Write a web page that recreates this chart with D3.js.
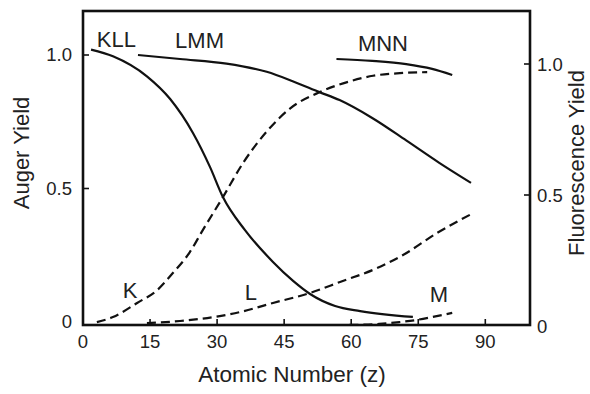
<!DOCTYPE html>
<html><head><meta charset="utf-8">
<script src="https://cdn.jsdelivr.net/npm/d3@7"></script>
<style>html,body{margin:0;padding:0;background:#fff;}svg{display:block;}</style>
</head><body>
<svg id="c" width="590" height="394"></svg>
<script>
// Auger yields (left axis)
const zKLL = [1.8, 6.7, 14.3, 19.5, 24.6, 28.4, 31.3, 36.2, 42.5, 47.0, 50.8, 56.4, 62.0, 73.8];
const aKLL = [1.02, 0.995, 0.92, 0.835, 0.708, 0.581, 0.468, 0.345, 0.225, 0.154, 0.105, 0.060, 0.041, 0.019];
const zLMM = [12.3, 21.7, 32.1, 41.1, 46.9, 52.9, 57.4, 64.7, 72.3, 79.7, 86.8];
const aLMM = [1.0, 0.985, 0.968, 0.937, 0.902, 0.861, 0.831, 0.764, 0.680, 0.596, 0.521];
const zMNN = [56.7, 64.7, 72.3, 78.1, 82.6];
const aMNN = [0.985, 0.978, 0.966, 0.948, 0.925];
// Fluorescence yields (right axis)
const zK = [3.1, 6.7, 12.1, 16.6, 20.1, 23.9, 26.8, 31.3, 35.8, 41.4, 46.3, 53.0, 59.1, 64.9, 70.9, 77.0];
const wK = [0.015, 0.034, 0.088, 0.137, 0.202, 0.282, 0.366, 0.492, 0.622, 0.748, 0.830, 0.893, 0.931, 0.955, 0.965, 0.969];
const zL = [14.3, 21.7, 30.6, 35.1, 42.5, 50.8, 57.5, 65.8, 71.6, 79.2, 87.3];
const wL = [0.011, 0.019, 0.038, 0.053, 0.088, 0.126, 0.168, 0.221, 0.271, 0.355, 0.431];
const zM = [59.6, 66.3, 70.8, 74.6, 78.1, 82.6];
const wM = [0.004, 0.008, 0.015, 0.023, 0.034, 0.050];

const xTicks = [0, 15, 30, 45, 60, 75, 90];
const yLTicks = [0, 0.5, 1.0];
const yRTicks = [0, 0.5, 1.0];
const yLTickLabels = ["0", "0.5", "1.0"];
const yRTickLabels = ["0", "0.5", "1.0"];

const labels = [
  {t: "KLL", z: 3.1, v: 1.03, ax: "L"},
  {t: "LMM", z: 20.6, v: 1.026, ax: "L"},
  {t: "MNN", z: 61.5, v: 1.015, ax: "L"},
  {t: "K", z: 8.9, v: 0.107, ax: "R"},
  {t: "L", z: 36.2, v: 0.099, ax: "R"},
  {t: "M", z: 77.6, v: 0.092, ax: "R"}
];

const svg = d3.select("#c");
const font = "'Liberation Sans', Arial, Helvetica, sans-serif";
const x = d3.scaleLinear().domain([0, 100]).range([83, 530]);
const yL = d3.scaleLinear().domain([0, 1]).range([322, 55]);
const yR = d3.scaleLinear().domain([0, 1]).range([326, 64]);
const frameTop = 11, frameBottom = 325;

// frame
svg.append("rect").attr("x", x(0)).attr("y", frameTop)
  .attr("width", x(100) - x(0)).attr("height", frameBottom - frameTop)
  .attr("fill", "none").attr("stroke", "#111").attr("stroke-width", 2.6);

// ticks (inward)
const g = svg.append("g").attr("stroke", "#111").attr("stroke-width", 1.6);
xTicks.forEach(t => { if (t > 0) g.append("line").attr("x1", x(t)).attr("x2", x(t)).attr("y1", frameBottom).attr("y2", frameBottom - 6); });
yLTicks.forEach(t => { if (t > 0) g.append("line").attr("x1", x(0)).attr("x2", x(0) + 6).attr("y1", yL(t)).attr("y2", yL(t)); });
yRTicks.forEach(t => { if (t > 0) g.append("line").attr("x1", x(100)).attr("x2", x(100) - 6).attr("y1", yR(t)).attr("y2", yR(t)); });

// tick labels
svg.selectAll(".xt").data(xTicks).enter().append("text")
  .attr("x", d => x(d)).attr("y", 348).attr("text-anchor", "middle")
  .attr("font-family", font).attr("font-size", 18.5).attr("fill", "#222").text(d => d);
svg.selectAll(".ylt").data(yLTicks).enter().append("text")
  .attr("x", 72).attr("y", d => yL(d) + 6).attr("text-anchor", "end")
  .attr("font-family", font).attr("font-size", 18.5).attr("fill", "#222").text((d, i) => yLTickLabels[i]);
svg.selectAll(".yrt").data(yRTicks).enter().append("text")
  .attr("x", 537).attr("y", d => yR(d) + 7).attr("text-anchor", "start")
  .attr("font-family", font).attr("font-size", 18.5).attr("fill", "#222").text((d, i) => yRTickLabels[i]);

// axis titles
svg.append("text").attr("x", 292).attr("y", 382).attr("text-anchor", "middle")
  .attr("font-family", font).attr("font-size", 22.5).attr("fill", "#222").text("Atomic Number (z)");
svg.append("text").attr("transform", "translate(29,153) rotate(-90)").attr("text-anchor", "middle")
  .attr("font-family", font).attr("font-size", 22).attr("fill", "#222").text("Auger Yield");
svg.append("text").attr("transform", "translate(584,163) rotate(-90)").attr("text-anchor", "middle")
  .attr("font-family", font).attr("font-size", 22).attr("fill", "#222").text("Fluorescence Yield");

// curves
function drawCurve(zs, vs, ys, dashed) {
  const line = d3.line().x(d => x(d[0])).y(d => ys(d[1])).curve(d3.curveMonotoneX);
  svg.append("path").attr("d", line(d3.zip(zs, vs)))
    .attr("fill", "none").attr("stroke", "#111").attr("stroke-width", 2.2)
    .attr("stroke-dasharray", dashed ? "9,5" : null);
}
drawCurve(zKLL, aKLL, yL, false);
drawCurve(zLMM, aLMM, yL, false);
drawCurve(zMNN, aMNN, yL, false);
drawCurve(zK, wK, yR, true);
drawCurve(zL, wL, yR, true);
drawCurve(zM, wM, yR, true);

// curve labels
labels.forEach(l => {
  svg.append("text").attr("x", x(l.z)).attr("y", (l.ax === "L" ? yL : yR)(l.v))
    .attr("font-family", font).attr("font-size", 22).attr("fill", "#222").text(l.t);
});
</script>
</body></html>
